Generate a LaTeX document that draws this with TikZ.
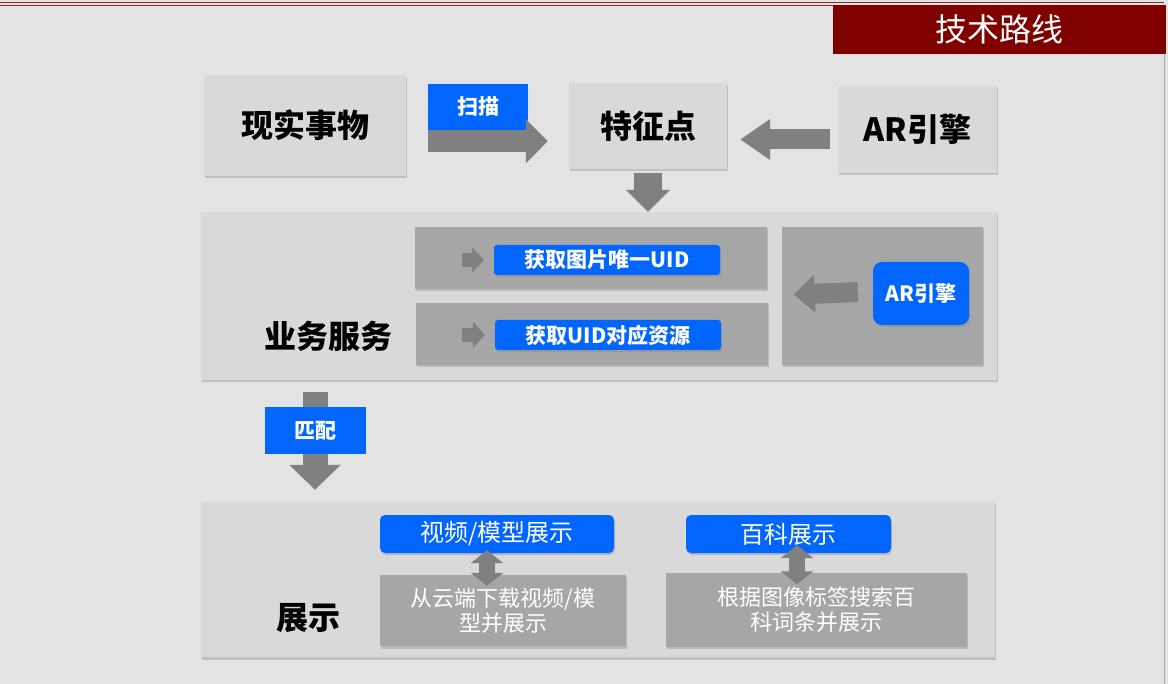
\documentclass[tikz,border=0pt]{standalone}
\usepackage{fontspec}
\newfontfamily\cjk{Noto Sans CJK SC}
\usetikzlibrary{arrows.meta,shadows,calc}
\definecolor{slide}{HTML}{E3E3E3}
\definecolor{panelgray}{HTML}{D9D9D9}
\definecolor{innergray}{HTML}{A6A6A6}
\definecolor{arrowgray}{HTML}{808080}
\definecolor{tagblue}{HTML}{0066FF}
\definecolor{darkred}{HTML}{800000}
\tikzset{
    panel/.style={
        fill=panelgray, inner sep=0pt,
        drop shadow={shadow xshift=1pt, shadow yshift=-2.5pt, opacity=.35}
    },
    inner/.style={
        fill=innergray, inner sep=0pt,
        drop shadow={shadow xshift=1pt, shadow yshift=-2.5pt, opacity=.35}
    },
    tag/.style={fill=tagblue, inner sep=0pt, text=white,
        font=\cjk\bfseries\fontsize{21}{21}\selectfont},
    pill/.style={tag, rounded corners=5pt,
        drop shadow={shadow xshift=1pt, shadow yshift=-2pt, opacity=.35}},
    heading/.style={text=black, font=\cjk\bfseries\fontsize{32}{32}\selectfont},
    plain/.style={text=white, align=center,
        font=\cjk\fontsize{22}{25}\selectfont},
    fat/.style={draw=arrowgray, line width=22pt,
        -{Triangle[length=22pt,width=43pt]}},
    smallfat/.style={draw=arrowgray, line width=14pt,
        -{Triangle[length=12pt,width=26pt]}},
    dualfat/.style={draw=arrowgray, line width=16pt,
        {Triangle[length=13pt,width=32pt]}-{Triangle[length=13pt,width=32pt]}}
}
\begin{document}
\begin{tikzpicture}[x=1pt,y=-1pt]
	\fill[slide] (0,0) rectangle (1168,684);
	\useasboundingbox (0,0) rectangle (1168,684);
	% frame
	\draw[darkred!85, line width=1.2pt] (0,2.8) -- (1164,2.8) (0,5.3) -- (1164,5.3);
	\draw[gray!70, line width=1pt] (1164.5,54) -- (1164.5,684);
	\node[fill=darkred, minimum width=333pt, minimum height=49pt, inner sep=0pt,
	      text=white, font=\cjk\fontsize{32}{32}\selectfont] (title) at (999.5,29.5) {技术路线};

	% first row
	\node[panel, heading, minimum width=202pt, minimum height=101pt] (real) at (305,125.5) {现实事物};
	\node[panel, heading, minimum width=158pt, minimum height=86pt] (feature) at (648,126) {\raisebox{-3pt}{特征点}};
	\node[panel, heading, minimum width=159pt, minimum height=87pt] (engine) at (917.5,129.5) {AR引擎};
	\node[tag, minimum width=100pt, minimum height=46pt] (scan) at (478,107) {扫描};

	\draw[fat, shorten >=21pt] ([yshift=-11pt]scan.south west) -- ([yshift=-11pt]scan.south west -| feature.west);
	\draw[fat, line width=20pt, -{Triangle[length=30pt,width=39pt]}, shorten <=8pt, shorten >=13pt]
	    ([yshift=-10pt]engine.west) -- ([yshift=-10pt]engine.west -| feature.east);

	% service
	\node[panel, minimum width=796pt, minimum height=168pt] (service) at (599,296) {};
	\node[heading] (servicetext) at (328,336) {业务服务};
	\node[inner, minimum width=352pt, minimum height=62pt] (uidA) at (591,258) {};
	\node[inner, minimum width=352pt, minimum height=62pt] (uidB) at (592,334) {};
	\node[inner, minimum width=201pt, minimum height=138pt] (rbox) at (882.5,296) {};
	\node[pill, minimum width=226pt, minimum height=30pt, rounded corners=3pt] (pillA) at (607,260) {获取图片唯一UID};
	\node[pill, minimum width=226pt, minimum height=30pt, rounded corners=3pt] (pillB) at (608,335) {获取UID对应资源};
	\node[pill, minimum width=96pt, minimum height=63pt, rounded corners=9pt] (arpill) at (921,293.5) {AR引擎};

	\draw[fat, line width=28pt, shorten <=4pt] (feature.south) -- (feature.south |- service.north);
	\draw[smallfat, shorten >=10pt] ([xshift=47pt]uidA.west |- pillA) -- (pillA.west);
	\draw[smallfat, shorten >=10pt] ([xshift=46pt]uidB.west |- pillB) -- (pillB.west);
	\draw[fat, line width=20pt, -{Triangle[length=21pt,width=37pt]}, shorten <=15pt, shorten >=12pt]
	    ([yshift=2pt]arpill.west) -- ([yshift=1pt]rbox.west);

	% display
	\node[panel, minimum width=794pt, minimum height=155pt] (display) at (597.5,579.5) {};
	\node[heading] (displaytext) at (308,618) {展示};
	\coordinate (matchpos) at (315,430.5);
	\draw[fat, line width=25pt, -{Triangle[length=25pt,width=50pt]}, shorten <=12pt, shorten >=12pt]
	    (service.south -| matchpos) -- (display.north -| matchpos);
	\node[tag, minimum width=101pt, minimum height=47pt] (match) at (matchpos) {匹配};
	\node[pill, minimum width=234pt, minimum height=38pt, font=\cjk\fontsize{24}{24}\selectfont] (video) at (497,534) {视频/模型展示};
	\node[pill, minimum width=205pt, minimum height=38pt, font=\cjk\fontsize{24}{24}\selectfont] (wiki) at (788.5,534) {百科展示};
	\node[inner, plain, minimum width=246pt, minimum height=71pt] (download) at (503,610.5) {从云端下载视频/模\\型并展示};
	\node[inner, plain, minimum width=301pt, minimum height=74pt] (search) at (816.5,609.5) {根据图像标签搜索百\\科词条并展示};

	\draw[dualfat, shorten <=-3pt, shorten >=-11pt] ([xshift=-10pt]video.south) -- ([xshift=-10pt]video.south |- download.north);
	\draw[dualfat, shorten <=-8pt, shorten >=-12pt] ([xshift=8.5pt]wiki.south) -- ([xshift=8.5pt]wiki.south |- search.north);
\end{tikzpicture}
\end{document}
